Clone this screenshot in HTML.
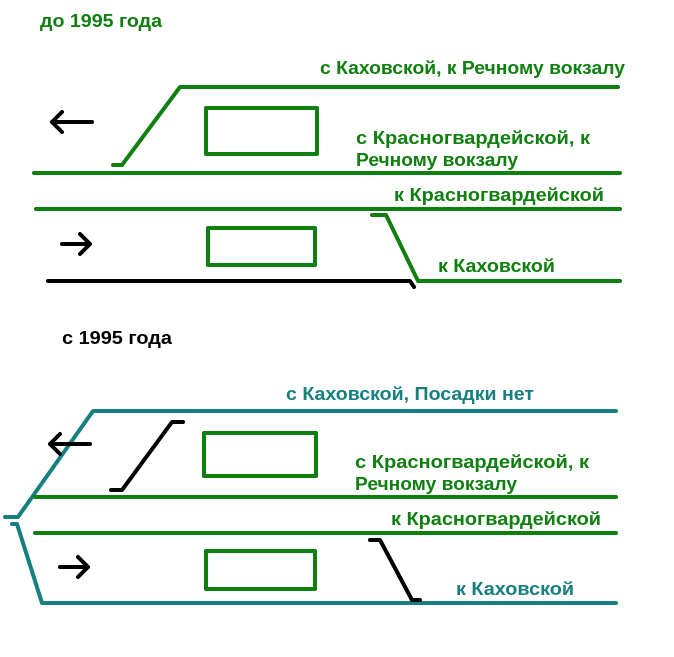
<!DOCTYPE html>
<html><head><meta charset="utf-8"><style>
html,body{margin:0;padding:0;background:#fff;width:674px;height:657px;overflow:hidden}
svg{display:block}
text{font-family:"Liberation Sans",sans-serif;font-weight:bold;font-size:18px}
</style></head><body>
<svg width="674" height="657" viewBox="0 0 674 657" xmlns="http://www.w3.org/2000/svg">
<g fill="none" stroke-width="4" stroke-linecap="round" stroke-linejoin="round">
<polyline points="113,165 122,165 180,87 618,87" stroke="#0f7f0f"/>
<rect x="206" y="108" width="111" height="46" stroke="#0f7f0f"/>
<line x1="34" y1="173" x2="620" y2="173" stroke="#0f7f0f"/>
<line x1="36" y1="209" x2="620" y2="209" stroke="#0f7f0f"/>
<rect x="208" y="228" width="107" height="37" stroke="#0f7f0f"/>
<polyline points="372,215 386,215 418,281 620,281" stroke="#0f7f0f"/>
<polyline points="48,281 410,281 414,287" stroke="#000"/>
<path d="M52,122 H92 M52,122 L62,112 M52,122 L62,132" stroke="#000"/>
<path d="M62,244 H90 M80,234 L90,244 L80,254" stroke="#000"/>
<polyline points="5,517 18,517 93,411 616,411" stroke="#167f7f"/>
<polyline points="12,524 17,524 42,603 616,603" stroke="#167f7f"/>
<line x1="35" y1="497" x2="616" y2="497" stroke="#0f7f0f"/>
<line x1="35" y1="533" x2="616" y2="533" stroke="#0f7f0f"/>
<rect x="204" y="433" width="112" height="43" stroke="#0f7f0f"/>
<rect x="206" y="551" width="109" height="38" stroke="#0f7f0f"/>
<polyline points="111,490 122,490 172,422 183,422" stroke="#000"/>
<polyline points="370,540 380,540 412,600 420,600" stroke="#000"/>
<path d="M50,444 H90 M50,444 L60,434 M50,444 L60,454" stroke="#000"/>
<path d="M60,567 H88 M78,557 L88,567 L78,577" stroke="#000"/>
</g>
<g fill="#0f7f0f">
<text x="40" y="27" textLength="122" lengthAdjust="spacingAndGlyphs">до 1995 года</text>
<text x="320" y="74" textLength="305" lengthAdjust="spacingAndGlyphs">с Каховской, к Речному вокзалу</text>
<text x="356" y="144" textLength="234" lengthAdjust="spacingAndGlyphs">с Красногвардейской, к</text>
<text x="356" y="166" textLength="162" lengthAdjust="spacingAndGlyphs">Речному вокзалу</text>
<text x="394" y="201" textLength="210" lengthAdjust="spacingAndGlyphs">к Красногвардейской</text>
<text x="438" y="272" textLength="117" lengthAdjust="spacingAndGlyphs">к Каховской</text>
<text x="355" y="468" textLength="234" lengthAdjust="spacingAndGlyphs">с Красногвардейской, к</text>
<text x="355" y="490" textLength="162" lengthAdjust="spacingAndGlyphs">Речному вокзалу</text>
<text x="391" y="525" textLength="210" lengthAdjust="spacingAndGlyphs">к Красногвардейской</text>
</g>
<g fill="#167f7f">
<text x="286" y="400" textLength="248" lengthAdjust="spacingAndGlyphs">с Каховской, Посадки нет</text>
<text x="456" y="595" textLength="118" lengthAdjust="spacingAndGlyphs">к Каховской</text>
</g>
<text x="62" y="344" fill="#000" textLength="110" lengthAdjust="spacingAndGlyphs">с 1995 года</text>
</svg>
</body></html>
